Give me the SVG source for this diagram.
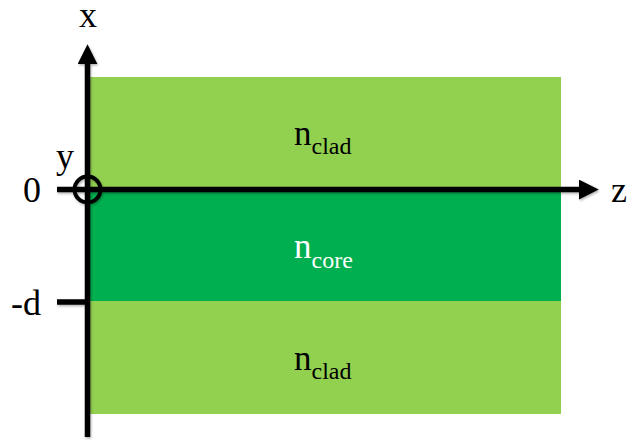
<svg xmlns="http://www.w3.org/2000/svg" width="633" height="442" viewBox="0 0 633 442">
<style>
.lbl{font-family:"Liberation Serif","DejaVu Serif",serif;fill:#000}
.big{font-size:36px}
.n{font-size:35px}
.sub{font-size:24px}
.ax{stroke:#000;stroke-width:5.5;fill:none}
</style>
<defs>
<marker id="arr" markerUnits="userSpaceOnUse" markerWidth="20" markerHeight="20" viewBox="0 0 18 18" refX="2" refY="9" orient="auto">
<polygon points="0,0 18,9 0,18" fill="#000"/>
</marker>
<filter id="sh" x="-10%" y="-10%" width="120%" height="120%">
<feDropShadow dx="1" dy="1.5" stdDeviation="1" flood-color="#000" flood-opacity="0.3"/>
</filter>
</defs>
<g id="clad-top">
<rect x="88" y="77" width="473" height="112" fill="#92D050"/>
<text class="lbl n" x="294" y="145">n<tspan class="sub" dy="9">clad</tspan></text>
</g>
<g id="core">
<rect x="88" y="189" width="473" height="112" fill="#00B050"/>
<text class="lbl n" x="294" y="258" style="fill:#fff">n<tspan class="sub" dy="10">core</tspan></text>
</g>
<g id="clad-bottom">
<rect x="88" y="301" width="473" height="113" fill="#92D050"/>
<text class="lbl n" x="294" y="370">n<tspan class="sub" dy="9">clad</tspan></text>
</g>
<g id="connectors" filter="url(#sh)">
<line class="ax" x1="87.5" y1="437" x2="87.5" y2="62" marker-end="url(#arr)"/>
<line class="ax" x1="57" y1="189.5" x2="581" y2="189.5" marker-end="url(#arr)"/>
<line class="ax" x1="57" y1="302" x2="88" y2="302"/>
<circle cx="87.5" cy="189.5" r="13" fill="none" stroke="#000" stroke-width="4"/>
</g>
<g id="labels">
<text class="lbl big" x="88" y="27" text-anchor="middle">x</text>
<text class="lbl big" x="611" y="202">z</text>
<text class="lbl big" x="56" y="168">y</text>
<text class="lbl big" x="23" y="202">0</text>
<text class="lbl big" x="11" y="315">-d</text>
</g>
</svg>
